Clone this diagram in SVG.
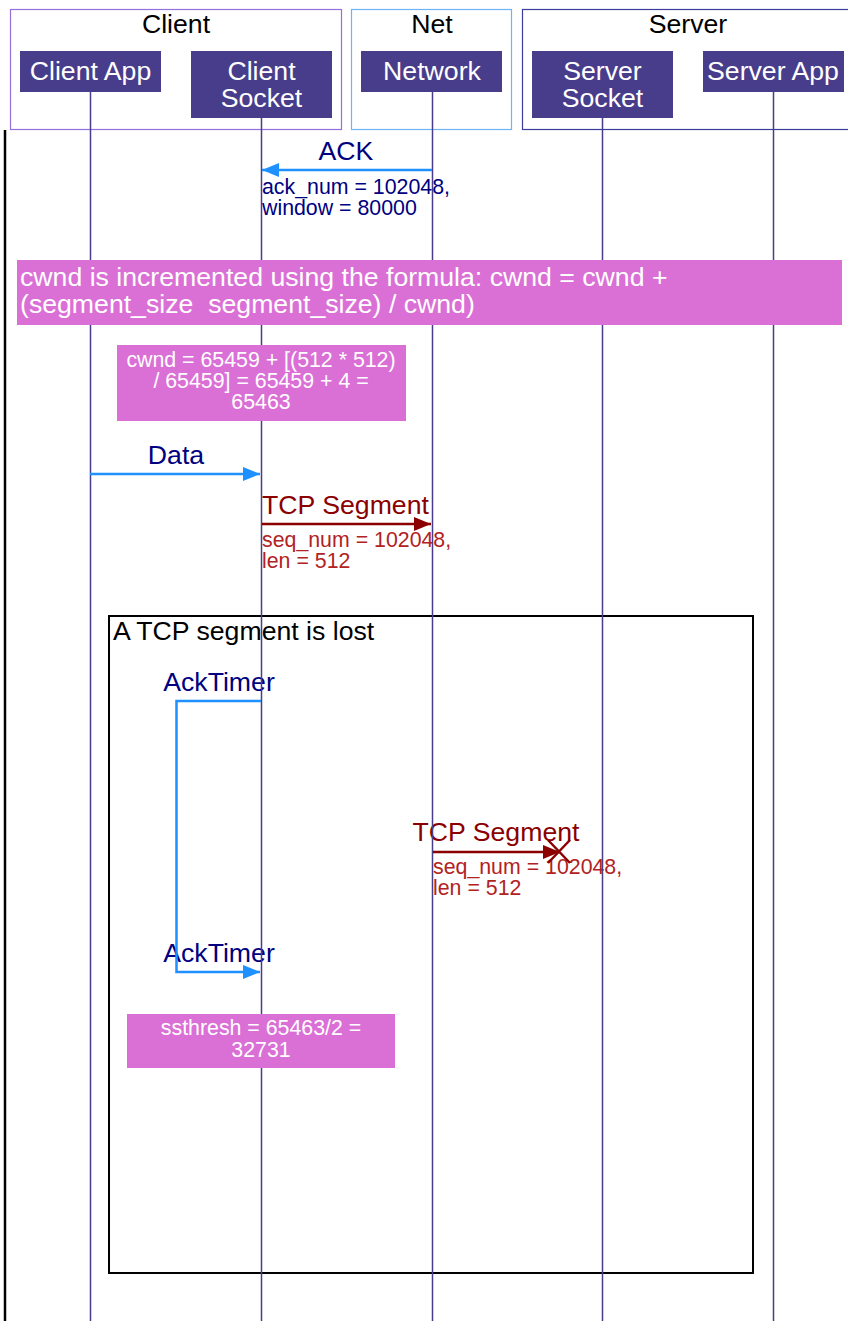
<svg xmlns="http://www.w3.org/2000/svg" width="848" height="1321" viewBox="0 0 848 1321">
<style>
text{font-family:"Liberation Sans",Arial,sans-serif}
.t26{font-size:26.67px}
.t20{font-size:21.33px}
.hdr{fill:#483D8B}
.hdrt{fill:#ffffff;font-size:26.67px;text-anchor:middle}
.life{stroke:#483D8B;stroke-width:1.5;fill:none}
.note{fill:#DA70D6}
.notet{fill:#ffffff}
.blue{stroke:#1E90FF;stroke-width:2.5;fill:none}
.red{stroke:#8B0000;stroke-width:2.5;fill:none}
.navy{fill:#000080}
.dred{fill:#8B0000}
.fire{fill:#B22222}
</style>
<defs>
<marker id="ab" viewBox="0 0 17 14" refX="17" refY="7" markerWidth="17" markerHeight="14" markerUnits="userSpaceOnUse" orient="auto"><path d="M0,0 L17,7 L0,14 z" fill="#1E90FF"/></marker>
<marker id="ar" viewBox="0 0 17 14" refX="17" refY="7" markerWidth="17" markerHeight="14" markerUnits="userSpaceOnUse" orient="auto"><path d="M0,0 L17,7 L0,14 z" fill="#8B0000"/></marker>
</defs>
<rect width="848" height="1321" fill="#ffffff"/>

<g id="group-client">
<rect x="10.5" y="9.5" width="331" height="120" fill="none" stroke="#9370DB" stroke-width="1.2"/>
<text class="t26" x="176" y="33" text-anchor="middle">Client</text>
</g>
<g id="group-net">
<rect x="351.5" y="9.5" width="160" height="120" fill="none" stroke="#6CB4F5" stroke-width="1.2"/>
<text class="t26" x="432" y="33" text-anchor="middle">Net</text>
</g>
<g id="group-server">
<rect x="522.5" y="9.5" width="340" height="120" fill="none" stroke="#3C3C9C" stroke-width="1.2"/>
<text class="t26" x="688" y="33" text-anchor="middle">Server</text>
</g>

<g id="frame">
<line x1="5" y1="130" x2="5" y2="1321" stroke="#000" stroke-width="2.5"/>
</g>

<g id="group-lost">
<rect x="109" y="616" width="644" height="657" fill="none" stroke="#000" stroke-width="2"/>
<text class="t26" x="113" y="640">A TCP segment is lost</text>
</g>

<g id="labels">
<text class="t26 navy" x="346" y="160" text-anchor="middle">ACK</text>
<text class="t20 navy" x="262" y="194">ack_num = 102048,</text>
<text class="t20 navy" x="262" y="215">window = 80000</text>
<text class="t26 navy" x="176" y="464" text-anchor="middle">Data</text>
<text class="t26 dred" x="262" y="514">TCP Segment</text>
<text class="t20 fire" x="262" y="547">seq_num = 102048,</text>
<text class="t20 fire" x="262" y="568">len = 512</text>
<text class="t26 navy" x="219" y="691" text-anchor="middle">AckTimer</text>
<text class="t26 dred" x="496" y="841" text-anchor="middle">TCP Segment</text>
<text class="t20 fire" x="433" y="874">seq_num = 102048,</text>
<text class="t20 fire" x="433" y="895">len = 512</text>
<text class="t26 navy" x="219" y="962" text-anchor="middle">AckTimer</text>
</g>

<g id="lifelines">
<line class="life" x1="90.5" y1="92" x2="90.5" y2="1321"/>
<line class="life" x1="261.5" y1="118" x2="261.5" y2="1321"/>
<line class="life" x1="432.5" y1="92" x2="432.5" y2="1321"/>
<line class="life" x1="602.5" y1="118" x2="602.5" y2="1321"/>
<line class="life" x1="773.5" y1="92" x2="773.5" y2="1321"/>
</g>

<g id="node-client-app">
<rect class="hdr" x="20" y="51" width="141" height="41"/>
<text class="hdrt" x="90.5" y="80">Client App</text>
</g>
<g id="node-client-socket">
<rect class="hdr" x="191" y="51" width="141" height="67"/>
<text class="hdrt" x="261.5" y="80">Client</text>
<text class="hdrt" x="261.5" y="107">Socket</text>
</g>
<g id="node-network">
<rect class="hdr" x="361" y="51" width="141" height="41"/>
<text class="hdrt" x="432" y="80">Network</text>
</g>
<g id="node-server-socket">
<rect class="hdr" x="532" y="51" width="141" height="67"/>
<text class="hdrt" x="602.5" y="80">Server</text>
<text class="hdrt" x="602.5" y="107">Socket</text>
</g>
<g id="node-server-app">
<rect class="hdr" x="703" y="51" width="141" height="41"/>
<text class="hdrt" x="773" y="80">Server App</text>
</g>

<g id="connectors">
<line class="blue" x1="432" y1="170" x2="262" y2="170" marker-end="url(#ab)"/>
<line class="blue" x1="90" y1="474" x2="260" y2="474" marker-end="url(#ab)"/>
<line class="red" x1="262" y1="524" x2="431" y2="524" marker-end="url(#ar)"/>
<path class="blue" d="M261,701 H176.5 V972 H260" marker-end="url(#ab)"/>
<line class="red" x1="433" y1="852" x2="560" y2="852" marker-end="url(#ar)"/>
<path d="M548,840 L570,863 M570,840 L548,863" stroke="#8B0000" stroke-width="2.5" fill="none"/>
</g>

<g id="note-cwnd-formula">
<rect class="note" x="17" y="260" width="825" height="65"/>
<text class="t26 notet" x="20" y="286" xml:space="preserve">cwnd is incremented using the formula: cwnd = cwnd +</text>
<text class="t26 notet" x="20" y="313" xml:space="preserve">(segment_size  segment_size) / cwnd)</text>
</g>
<g id="note-cwnd-calc">
<rect class="note" x="117" y="345" width="289" height="76"/>
<text class="t20 notet" x="261" y="367" text-anchor="middle">cwnd = 65459 + [(512 * 512)</text>
<text class="t20 notet" x="261" y="388" text-anchor="middle">/ 65459] = 65459 + 4 =</text>
<text class="t20 notet" x="261" y="409" text-anchor="middle">65463</text>
</g>
<g id="note-ssthresh">
<rect class="note" x="127" y="1014" width="268" height="54"/>
<text class="t20 notet" x="261" y="1035" text-anchor="middle">ssthresh = 65463/2 =</text>
<text class="t20 notet" x="261" y="1057" text-anchor="middle">32731</text>
</g>
</svg>
